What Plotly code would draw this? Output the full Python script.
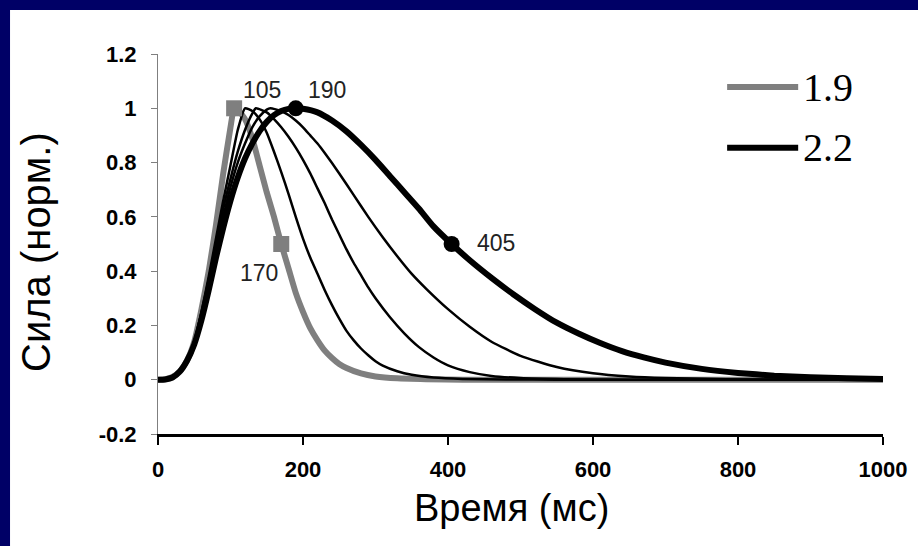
import plotly.graph_objects as go

# ---- data ----
t_19 = [0, 10, 20, 30, 40, 50, 60, 70, 80, 90, 100, 105, 110, 120, 130, 140, 150, 160, 170, 180,
        190, 200, 210, 220, 230, 240, 250, 260, 280, 300, 330, 370, 420, 1000]
v_19 = [0, 0.002, 0.01, 0.03, 0.07, 0.14, 0.26, 0.40, 0.57, 0.76, 0.93, 1.0, 0.995, 0.96, 0.89, 0.79,
        0.69, 0.60, 0.50, 0.41, 0.32, 0.25, 0.19, 0.145, 0.107, 0.08, 0.058, 0.043, 0.023, 0.012,
        0.005, 0.002, 0.0, 0.0]

t_a = [0, 10, 20, 30, 40, 50, 60, 70, 80, 90, 100, 110, 120, 130, 140, 150, 160, 170, 180, 190,
       200, 210, 220, 230, 240, 250, 260, 270, 280, 290, 300, 310, 330, 350, 380, 420, 480, 550, 1000]
v_a = [0, 0.002, 0.008, 0.03, 0.07, 0.14, 0.25, 0.38, 0.52, 0.66, 0.79, 0.92, 1.0, 0.99, 0.96, 0.91,
       0.84, 0.765, 0.685, 0.60, 0.52, 0.45, 0.39, 0.33, 0.275, 0.225, 0.18, 0.145, 0.115, 0.09, 0.068,
       0.052, 0.031, 0.018, 0.008, 0.003, 0.001, 0.0, 0.0]

t_b = [0, 10, 20, 30, 40, 50, 60, 70, 80, 90, 100, 110, 120, 130, 135, 150, 160, 170, 180, 190, 200,
       210, 220, 230, 240, 250, 260, 270, 280, 290, 300, 320, 340, 360, 380, 400, 430, 460, 500, 560,
       650, 1000]
v_b = [0, 0.002, 0.008, 0.03, 0.07, 0.14, 0.25, 0.37, 0.50, 0.63, 0.74, 0.84, 0.92, 0.98, 1.0, 0.985,
       0.96, 0.93, 0.895, 0.855, 0.81, 0.76, 0.705, 0.65, 0.59, 0.535, 0.48, 0.43, 0.385, 0.34, 0.30,
       0.23, 0.17, 0.12, 0.082, 0.053, 0.028, 0.014, 0.006, 0.002, 0.0, 0.0]

t_c = [0, 10, 20, 30, 40, 50, 60, 70, 80, 90, 100, 110, 120, 130, 140, 150, 155, 170, 180, 190, 200,
       210, 220, 230, 250, 270, 290, 310, 330, 350, 370, 400, 430, 460, 500, 550, 600, 650, 700, 800,
       900, 1000]
v_c = [0, 0.002, 0.008, 0.03, 0.07, 0.14, 0.24, 0.36, 0.48, 0.60, 0.71, 0.80, 0.87, 0.93, 0.97, 0.995,
       1.0, 0.99, 0.975, 0.955, 0.93, 0.90, 0.87, 0.835, 0.76, 0.68, 0.60, 0.525, 0.455, 0.39, 0.335,
       0.26, 0.195, 0.14, 0.088, 0.047, 0.024, 0.012, 0.006, 0.001, 0.0, 0.0]

t_22 = [0, 10, 20, 30, 40, 50, 60, 70, 80, 90, 100, 110, 120, 130, 140, 150, 160, 170, 180, 190, 200,
        220, 240, 260, 280, 300, 320, 340, 360, 380, 405, 430, 460, 490, 520, 550, 580, 610, 640, 670,
        700, 750, 800, 850, 900, 950, 1000]
v_22 = [0, 0.001, 0.008, 0.03, 0.07, 0.13, 0.22, 0.33, 0.45, 0.56, 0.66, 0.745, 0.815, 0.87, 0.915,
        0.95, 0.975, 0.99, 0.998, 1.0, 0.998, 0.985, 0.955, 0.915, 0.865, 0.81, 0.75, 0.69, 0.63,
        0.565, 0.50, 0.44, 0.375, 0.315, 0.26, 0.21, 0.17, 0.135, 0.105, 0.082, 0.063, 0.04, 0.025,
        0.015, 0.009, 0.005, 0.003]

sq_t = [105, 170]
sq_v = [1.0, 0.5]
ci_t = [190, 405]
ci_v = [1.0, 0.5]
label_text = ["105", "190", "170", "405"]
label_t = [143, 233, 139, 466]
label_v = [1.066, 1.066, 0.393, 0.503]

legend_names = ["1.9", "2.2"]

x_ticks = [0, 200, 400, 600, 800, 1000]
x_ticktext = ["0", "200", "400", "600", "800", "1000"]
y_ticks = [-0.2, 0, 0.2, 0.4, 0.6, 0.8, 1.0, 1.2]
y_ticktext = ["-0.2", "0", "0.2", "0.4", "0.6", "0.8", "1", "1.2"]

GRAY = "#7f7f7f"
NAVY = "#000066"
SM = 0.5

fig = go.Figure()

fig.add_trace(go.Scatter(x=t_19, y=v_19, mode="lines",
                         line=dict(color=GRAY, width=6, shape="spline", smoothing=SM),
                         hoverinfo="skip", showlegend=False))
for tt, vv in [(t_a, v_a), (t_b, v_b), (t_c, v_c)]:
    fig.add_trace(go.Scatter(x=tt, y=vv, mode="lines",
                             line=dict(color="black", width=2.5, shape="spline", smoothing=SM),
                             hoverinfo="skip", showlegend=False))
fig.add_trace(go.Scatter(x=t_22, y=v_22, mode="lines",
                         line=dict(color="black", width=6, shape="spline", smoothing=SM),
                         hoverinfo="skip", showlegend=False))
fig.add_trace(go.Scatter(x=sq_t, y=sq_v, mode="markers",
                         marker=dict(symbol="square", size=16, color=GRAY), showlegend=False))
fig.add_trace(go.Scatter(x=ci_t, y=ci_v, mode="markers",
                         marker=dict(symbol="circle", size=16, color="black"), showlegend=False))

for txt, tx, ty in zip(label_text, label_t, label_v):
    fig.add_annotation(x=tx, y=ty, text=txt, showarrow=False, xref="x", yref="y",
                       font=dict(family="Liberation Sans, Arial", size=23, color="#222"))

# axis titles
fig.add_annotation(x=0.488, y=-0.195, xref="paper", yref="paper", text="Время (мс)", showarrow=False,
                   xanchor="center", yanchor="middle",
                   font=dict(family="Liberation Sans, Arial", size=38, color="black"))
fig.add_annotation(x=-0.1683, y=0.479, xref="paper", yref="paper", text="Сила (норм.)", showarrow=False,
                   textangle=-90, xanchor="center", yanchor="middle",
                   font=dict(family="Liberation Sans, Arial", size=40, color="black"))

# navy frame bands at top and left of the white page
shapes = [
    dict(type="rect", xref="paper", yref="paper", x0=-0.3, x1=1.3, y0=1.1158, y1=1.35,
         fillcolor=NAVY, line=dict(width=0), layer="below"),
    dict(type="rect", xref="paper", yref="paper", x0=-0.3, x1=-0.2041, y0=-0.5, y1=1.35,
         fillcolor=NAVY, line=dict(width=0), layer="below"),
]
# legend
leg_y = [0.913, 0.753]
leg_col = [GRAY, "black"]
for name, yy, col in zip(legend_names, leg_y, leg_col):
    shapes.append(dict(type="line", xref="paper", yref="paper", x0=0.785, x1=0.883, y0=yy, y1=yy,
                       line=dict(color=col, width=6)))
    fig.add_annotation(x=0.887, y=yy, xref="paper", yref="paper", text=name, showarrow=False,
                       xanchor="left", yanchor="middle",
                       font=dict(family="Liberation Serif, Times New Roman", size=40, color="black"))

fig.update_layout(
    width=918, height=546,
    margin=dict(l=158, r=35, t=54, b=112),
    paper_bgcolor="white", plot_bgcolor="white",
    shapes=shapes,
    showlegend=False,
    xaxis=dict(range=[0, 1000], tickvals=x_ticks, ticktext=x_ticktext, showgrid=False, zeroline=False,
               showline=True, linecolor="black", linewidth=2.5, ticks="outside", ticklen=8, tickwidth=2,
               tickcolor="black", ticklabelstandoff=6,
               tickfont=dict(family="Liberation Sans, Arial", size=22, color="black", weight="bold")),
    yaxis=dict(range=[-0.2, 1.2], tickvals=y_ticks, ticktext=y_ticktext, showgrid=False, zeroline=False,
               showline=True, linecolor=GRAY, linewidth=1, ticks="outside", ticklen=6, tickwidth=1,
               tickcolor=GRAY, ticklabelstandoff=10,
               tickfont=dict(family="Liberation Sans, Arial", size=22, color="black", weight="bold")),
)

fig.write_html("out.html",
               config={"displayModeBar": False},
               post_script=("document.body.style.margin='0';"
                            "document.documentElement.style.overflow='hidden';"
                            "document.body.style.overflow='hidden';"))
